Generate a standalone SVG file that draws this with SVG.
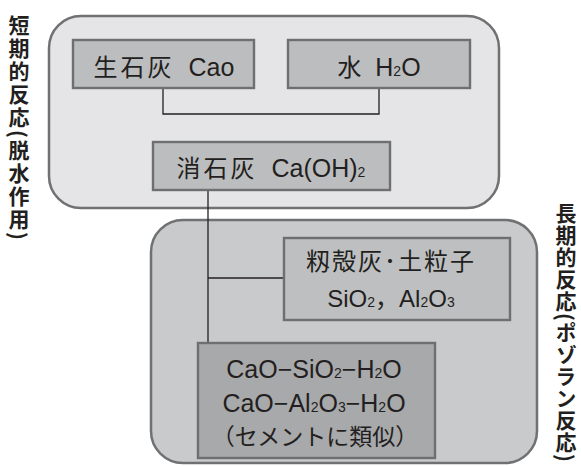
<svg xmlns="http://www.w3.org/2000/svg" width="581" height="466" viewBox="0 0 581 466">
<style>
.outer{stroke:#707172;stroke-width:2.5}
.box{stroke:#6e6f70;stroke-width:2.4}
.t{font-family:"Liberation Sans","Noto Sans CJK JP",sans-serif;fill:#231f20;text-anchor:middle}
.j{font-family:"Noto Sans CJK JP",sans-serif;font-size:24px}
.s{font-size:14px}
.v{font-family:"Noto Sans CJK JP",sans-serif;font-weight:bold;font-size:21px;fill:#231f20;writing-mode:vertical-rl}
.ln{fill:none;stroke:#231f20;stroke-width:1.3}
</style>
<rect width="581" height="466" fill="#ffffff"/>
<g id="short-term-group">
<rect class="outer" x="49" y="16" width="450" height="192" rx="32" fill="#e5e5e7"/>
</g>
<g id="long-term-group">
<rect class="outer" x="151" y="220" width="386" height="243" rx="32" fill="#c9cacc"/>
</g>
<g id="connectors">
<path class="ln" d="M163,88 V114 H379 V88"/>
<path class="ln" d="M208,190 V343"/>
<path class="ln" d="M208,278 H284"/>
</g>
<g id="quicklime">
<rect class="box" x="73" y="40" width="181" height="48" fill="#bcbdbf"/>
<text class="t" x="164" y="76" font-size="25" xml:space="preserve"><tspan class="j" letter-spacing="3">生石灰</tspan>  Cao</text>
</g>
<g id="water">
<rect class="box" x="288" y="40" width="182" height="48" fill="#bcbdbf"/>
<text class="t" x="379" y="76" font-size="25" xml:space="preserve"><tspan class="j">水</tspan>  H<tspan class="s">2</tspan>O</text>
</g>
<g id="slaked-lime">
<rect class="box" x="153" y="142" width="237" height="48" fill="#bcbdbf"/>
<text class="t" x="271" y="177" font-size="25" xml:space="preserve"><tspan class="j" letter-spacing="3">消石灰</tspan>  Ca(OH)<tspan class="s">2</tspan></text>
</g>
<g id="rice-husk-ash">
<rect class="box" x="284" y="238" width="226" height="82" fill="#bebfc1"/>
<text class="t j" x="391" y="270" letter-spacing="2">籾殻灰･土粒子</text>
<text class="t" x="391" y="307" font-size="24">SiO<tspan class="s">2</tspan><tspan class="j">，</tspan>Al<tspan class="s">2</tspan>O<tspan class="s">3</tspan></text>
</g>
<g id="cement-like">
<rect class="box" x="198" y="343" width="237" height="115" fill="#a8a9ab"/>
<text class="t" x="314" y="378" font-size="25">CaO−SiO<tspan class="s">2</tspan>−H<tspan class="s">2</tspan>O</text>
<text class="t" x="314" y="412" font-size="25">CaO−Al<tspan class="s">2</tspan>O<tspan class="s">3</tspan>−H<tspan class="s">2</tspan>O</text>
<text class="t j" x="315" y="445" style="font-size:23px">（セメントに類似）</text>
</g>
<g id="label-short">
<text class="v" x="19" y="15" letter-spacing="2">短期的反応(脱水作用)</text>
</g>
<g id="label-long">
<text class="v" x="566" y="203" letter-spacing="1">長期的反応(ポゾラン反応)</text>
</g>
</svg>
